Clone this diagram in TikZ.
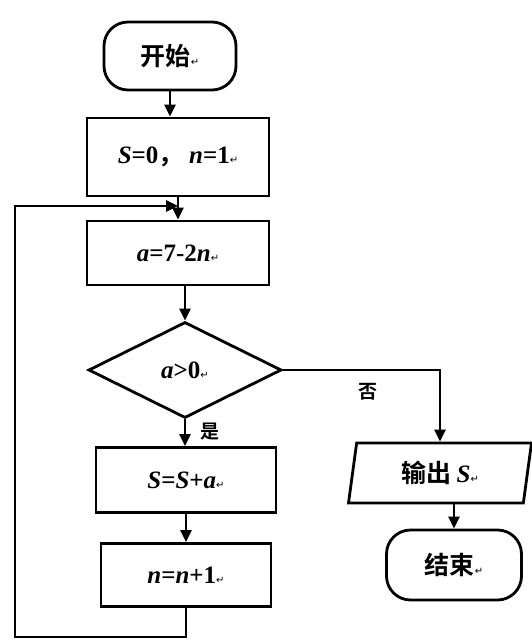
\documentclass[tikz,border=0pt]{standalone}
\usepackage{fontspec}
\setmainfont{Noto Sans CJK SC}[BoldFont={Noto Sans CJK SC Bold}]
\newfontfamily\latfont{Liberation Serif}
\newfontfamily\symfont{DejaVu Sans}
\usetikzlibrary{shapes.geometric,arrows.meta}
\newcommand\pmark{{\symfont\fontsize{10}{10}\selectfont\mdseries ↵}}
\newcommand\vv[1]{{\latfont\bfseries\itshape #1}}
\newcommand\rr[1]{{\latfont\bfseries #1}}
\begin{document}
\begin{tikzpicture}[x=1pt,y=-1pt, line width=2.8pt,
  txt/.style={font=\fontsize{25}{27}\selectfont\bfseries},
  box/.style={draw, txt, inner sep=0pt, minimum width=180pt, minimum height=64pt},
  term/.style={draw, txt, inner sep=0pt, rounded corners=24pt, minimum width=132pt, minimum height=68pt},
  cond/.style={draw, txt, diamond, inner sep=0pt, minimum width=193pt, minimum height=96pt},
  io/.style={draw, txt, trapezium, trapezium left angle=71, trapezium right angle=109, trapezium stretches body, inner sep=0pt, minimum width=183pt, minimum height=60pt},
  arr/.style={-{Triangle[length=12pt,width=11pt]}},
  lbl/.style={font=\fontsize{19}{20}\selectfont\bfseries}]
\useasboundingbox (0,0) rectangle (531,642);
\node[term] (start) at (170,56) {开始\pmark};
\node[box, minimum width=182pt, minimum height=78pt] (init) at (178,157) {\vv{S}\rr{=0}，\ \vv{n}\rr{=1}\pmark};
\node[box, minimum width=182pt] (calc) at (178,253) {\vv{a}\rr{=7-2}\vv{n}\pmark};
\node[cond] (dec) at (185,370) {\vv{a}\rr{>0}\pmark};
\node[box, minimum height=65pt] (add) at (186,480) {\vv{S}\rr{=}\vv{S}\rr{+}\vv{a}\pmark};
\node[box, minimum width=170pt, minimum height=63pt] (inc) at (186,575) {\vv{n}\rr{=}\vv{n}\rr{+1}\pmark};
\node[io] (out) at (440,473) {输出 \vv{S}\pmark};
\node[term, minimum width=135pt, minimum height=70pt] (stop) at (454,565) {结束\pmark};
\node[lbl] (yes) at (210,432) {是};
\node[lbl] (no) at (368,392) {否};
\coordinate (lb) at (15,637);
\coordinate (lt) at (15,206);
\draw[arr] (start.south) -- (start.south |- init.north);
\draw[arr] (init.south -| calc.north) -- (calc.north);
\draw[arr] (calc.south -| dec.north) -- (dec.north);
\draw[arr] (dec.south) -- (dec.south |- add.north);
\draw[arr] (add.south) -- (inc.north);
\draw[arr] (inc.south) -- (inc.south |- lb) -- (lb) -- (lt) -- (lt -| calc.north);
\draw[arr] (dec.east) -| (out.north);
\draw[arr] (out.south -| stop.north) -- (stop.north);
\end{tikzpicture}
\end{document}
